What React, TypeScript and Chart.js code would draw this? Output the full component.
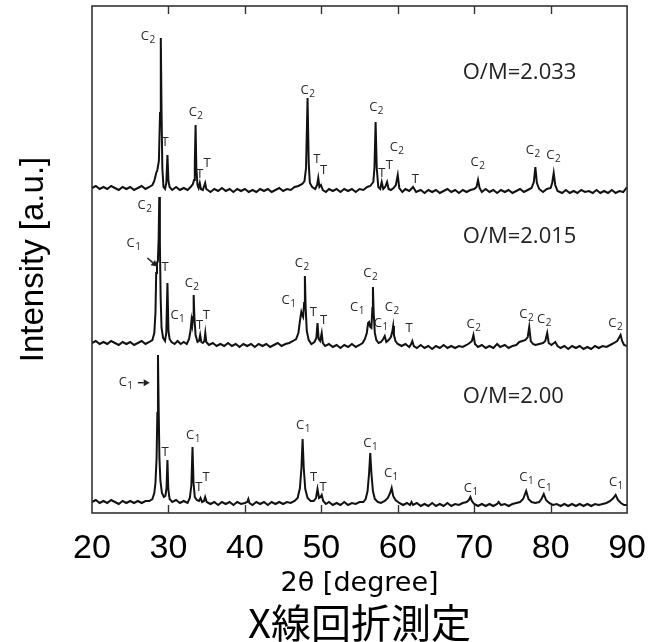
import React, { useEffect, useRef } from 'react';
import { Chart, registerables } from 'chart.js';

Chart.register(...registerables);

// ---------- data (2θ in degree, stacked intensity in a.u.) ----------
const X_TICKS = [20, 30, 40, 50, 60, 70, 80, 90];
const SAMPLE_NAMES = ['O/M=2.033', 'O/M=2.015', 'O/M=2.00'];
const NAME_POS: [number, number][] = [[68.5, 440.5], [68.5, 276], [68.5, 116]];

const TRACE_2033: [number, number][] = [
  [20.0, 325], [20.5, 327], [21.0, 324], [21.5, 326], [22.0, 324], [22.5, 327], [23.0, 325], [23.5, 323],
  [24.0, 326], [24.5, 324], [25.0, 326], [25.5, 323], [26.0, 325], [26.5, 327], [27.0, 324], [27.5, 326],
  [27.9, 328], [28.15, 332], [28.4, 340], [28.55, 343], [28.75, 352], [28.9, 400], [29.0, 475], [29.1, 400],
  [29.2, 345], [29.35, 326], [29.55, 324], [29.72, 330], [29.87, 358], [30.0, 332], [30.15, 326], [30.5, 323],
  [31.0, 326], [31.5, 323], [32.0, 325], [32.5, 323], [32.9, 326], [33.2, 329], [33.35, 333], [33.45, 350],
  [33.55, 388], [33.65, 345], [33.8, 328], [33.95, 325], [34.1, 330], [34.25, 324], [34.5, 323], [34.8, 330],
  [34.95, 324], [35.5, 321], [36.0, 324], [36.5, 322], [37.0, 325], [37.5, 322], [38.0, 324], [38.5, 321],
  [39.0, 324], [39.5, 322], [40.0, 324], [40.5, 321], [41.0, 323], [41.5, 321], [42.0, 324], [42.5, 322],
  [43.0, 324], [43.5, 321], [44.0, 323], [44.5, 325], [45.0, 322], [45.5, 324], [46.0, 323], [46.5, 326],
  [47.0, 327], [47.5, 329], [47.8, 332], [48.0, 345], [48.2, 415], [48.35, 350], [48.5, 330], [48.8, 326],
  [49.2, 324], [49.45, 328], [49.6, 335], [49.75, 326], [49.95, 328], [50.2, 323], [50.6, 321], [51.0, 324],
  [51.5, 322], [52.0, 324], [52.5, 321], [53.0, 324], [53.5, 322], [54.0, 324], [54.5, 321], [55.0, 324],
  [55.5, 323], [56.0, 326], [56.4, 327], [56.8, 331], [56.95, 345], [57.1, 391], [57.25, 345], [57.45, 326],
  [57.7, 324], [57.9, 331], [58.1, 324], [58.35, 326], [58.6, 331], [58.8, 324], [59.1, 323], [59.45, 325],
  [59.75, 328], [60.0, 338], [60.2, 325], [60.6, 321], [61.0, 324], [61.5, 322], [62.0, 326], [62.4, 321],
  [63.0, 323], [63.5, 320], [64.0, 323], [64.5, 321], [65.0, 323], [65.5, 320], [66.0, 322], [66.5, 324],
  [67.0, 321], [67.5, 323], [68.0, 320], [68.5, 323], [69.0, 321], [69.5, 323], [70.0, 324], [70.3, 326],
  [70.5, 333], [70.7, 325], [71.0, 321], [71.5, 324], [72.0, 321], [72.5, 323], [73.0, 320], [73.5, 323],
  [74.0, 321], [74.5, 323], [75.0, 320], [75.5, 322], [76.0, 324], [76.5, 321], [77.0, 323], [77.5, 325],
  [77.8, 331], [78.0, 346], [78.2, 330], [78.5, 324], [79.0, 321], [79.5, 324], [80.0, 325], [80.2, 330],
  [80.4, 340], [80.6, 328], [80.9, 322], [81.5, 320], [82.0, 323], [82.5, 320], [83.0, 322], [83.5, 320],
  [84.0, 323], [84.5, 321], [85.0, 322], [85.5, 320], [86.0, 323], [86.5, 320], [87.0, 322], [87.5, 320],
  [88.0, 323], [88.5, 320], [89.0, 322], [89.5, 321], [90.0, 326],
];

const TRACE_2015: [number, number][] = [
  [20.0, 170], [20.5, 172], [21.0, 169], [21.5, 171], [22.0, 169], [22.5, 172], [23.0, 170], [23.5, 168],
  [24.0, 171], [24.5, 169], [25.0, 171], [25.5, 168], [26.0, 170], [26.5, 172], [27.0, 169], [27.5, 171],
  [27.9, 173], [28.15, 180], [28.3, 200], [28.4, 240], [28.5, 250], [28.62, 252], [28.72, 275], [28.8, 316],
  [28.88, 270], [28.98, 215], [29.1, 185], [29.3, 175], [29.55, 172], [29.72, 180], [29.87, 230], [30.0, 182],
  [30.15, 174], [30.4, 171], [30.8, 169], [31.2, 172], [31.6, 169], [32.0, 171], [32.4, 169], [32.7, 174],
  [32.9, 183], [33.02, 193], [33.12, 188], [33.22, 196], [33.3, 218], [33.4, 195], [33.55, 178], [33.8, 171],
  [34.0, 172], [34.15, 178], [34.3, 171], [34.5, 170], [34.7, 172], [34.82, 180], [34.95, 171], [35.3, 168],
  [35.8, 170], [36.3, 167], [36.8, 169], [37.3, 167], [37.8, 170], [38.3, 167], [38.8, 169], [39.3, 166],
  [39.8, 169], [40.3, 167], [40.8, 169], [41.3, 166], [41.8, 169], [42.3, 167], [42.8, 169], [43.3, 166],
  [43.8, 168], [44.3, 170], [44.8, 167], [45.3, 169], [45.8, 170], [46.3, 172], [46.7, 174], [47.0, 180],
  [47.2, 192], [47.38, 201], [47.5, 198], [47.62, 196], [47.75, 210], [47.85, 237], [47.95, 205], [48.1, 182],
  [48.35, 173], [48.7, 169], [49.1, 171], [49.35, 175], [49.5, 190], [49.65, 174], [49.85, 172], [50.05, 180],
  [50.2, 170], [50.5, 167], [51.0, 169], [51.5, 166], [52.0, 168], [52.5, 165], [53.0, 168], [53.5, 166],
  [54.0, 169], [54.5, 166], [55.0, 168], [55.4, 170], [55.7, 174], [55.95, 180], [56.12, 190], [56.25, 191],
  [56.4, 186], [56.55, 185], [56.68, 205], [56.75, 226], [56.85, 200], [57.0, 180], [57.2, 173], [57.5, 170],
  [57.8, 171], [58.1, 174], [58.3, 177], [58.5, 171], [58.8, 173], [59.1, 176], [59.3, 182], [59.4, 187],
  [59.5, 178], [59.7, 172], [60.0, 169], [60.5, 167], [61.0, 169], [61.5, 166], [61.75, 169], [61.9, 172],
  [62.1, 167], [62.5, 165], [63.0, 168], [63.5, 165], [64.0, 167], [64.5, 164], [65.0, 167], [65.5, 165],
  [66.0, 168], [66.5, 165], [67.0, 167], [67.5, 165], [68.0, 167], [68.5, 166], [69.0, 168], [69.4, 170],
  [69.7, 172], [69.9, 178], [70.1, 169], [70.5, 166], [71.0, 168], [71.5, 165], [72.0, 167], [72.5, 165],
  [73.0, 169], [73.4, 166], [74.0, 168], [74.5, 165], [75.0, 167], [75.5, 168], [75.9, 171], [76.3, 172],
  [76.7, 173], [77.0, 176], [77.2, 186], [77.4, 172], [77.7, 169], [78.0, 168], [78.5, 169], [79.0, 170],
  [79.3, 172], [79.55, 180], [79.75, 170], [80.1, 168], [80.6, 171], [80.9, 167], [81.3, 165], [81.8, 167],
  [82.3, 164], [82.8, 167], [83.3, 165], [83.8, 167], [84.3, 164], [84.8, 166], [85.3, 164], [85.8, 167],
  [86.3, 165], [86.8, 167], [87.3, 166], [87.8, 168], [88.3, 170], [88.7, 172], [89.0, 176], [89.15, 178],
  [89.35, 172], [89.6, 168], [90.0, 167],
];

const TRACE_200: [number, number][] = [
  [20.0, 11], [20.5, 13], [21.0, 10], [21.5, 12], [22.0, 10], [22.5, 13], [23.0, 11], [23.5, 9],
  [24.0, 12], [24.5, 10], [25.0, 12], [25.5, 10], [26.0, 12], [26.5, 10], [27.0, 12], [27.5, 12],
  [27.9, 14], [28.15, 20], [28.3, 30], [28.45, 55], [28.55, 100], [28.63, 158], [28.72, 105], [28.82, 55],
  [28.95, 32], [29.15, 20], [29.4, 16], [29.6, 17], [29.75, 25], [29.87, 53], [29.98, 24], [30.15, 14],
  [30.5, 11], [31.0, 13], [31.5, 10], [32.0, 12], [32.5, 10], [32.8, 15], [33.0, 28], [33.15, 66],
  [33.28, 30], [33.45, 16], [33.7, 13], [34.0, 12], [34.2, 15], [34.4, 11], [34.65, 12], [34.8, 16],
  [35.0, 11], [35.5, 9], [36.0, 11], [36.5, 8], [37.0, 11], [37.5, 9], [38.0, 11], [38.5, 8],
  [39.0, 11], [39.5, 9], [40.0, 10], [40.3, 11], [40.45, 14], [40.6, 10], [41.0, 8], [41.5, 11],
  [42.0, 9], [42.5, 11], [43.0, 8], [43.5, 11], [44.0, 9], [44.5, 11], [45.0, 9], [45.5, 11],
  [46.0, 10], [46.5, 12], [46.9, 15], [47.2, 25], [47.4, 45], [47.55, 74], [47.7, 45], [47.9, 24],
  [48.2, 15], [48.6, 12], [49.0, 12], [49.3, 15], [49.5, 24], [49.7, 15], [49.9, 16], [50.05, 18],
  [50.25, 12], [50.6, 9], [51.0, 11], [51.5, 8], [52.0, 10], [52.5, 8], [53.0, 11], [53.5, 8],
  [54.0, 10], [54.5, 9], [55.0, 11], [55.5, 11], [55.8, 14], [56.05, 22], [56.25, 40], [56.4, 60],
  [56.55, 40], [56.75, 22], [57.0, 14], [57.4, 11], [57.8, 10], [58.3, 12], [58.7, 15], [59.0, 20],
  [59.2, 25], [59.4, 17], [59.7, 13], [60.2, 10], [60.7, 8], [61.2, 10], [61.6, 8], [61.8, 11],
  [62.0, 8], [62.5, 10], [63.0, 7], [63.5, 9], [64.0, 7], [64.5, 10], [65.0, 7], [65.5, 9],
  [66.0, 7], [66.5, 10], [67.0, 7], [67.5, 9], [68.0, 8], [68.5, 10], [69.0, 11], [69.3, 13],
  [69.5, 16], [69.7, 12], [70.0, 9], [70.5, 7], [71.0, 9], [71.5, 7], [72.0, 9], [72.5, 7],
  [73.0, 9], [73.2, 11], [73.5, 8], [74.0, 9], [74.5, 7], [75.0, 9], [75.5, 10], [76.0, 11],
  [76.4, 14], [76.8, 22], [77.1, 14], [77.5, 11], [78.0, 10], [78.5, 11], [78.8, 14], [79.1, 19],
  [79.4, 13], [79.8, 10], [80.3, 8], [80.8, 9], [81.3, 7], [81.8, 9], [82.3, 7], [82.8, 9],
  [83.3, 7], [83.8, 9], [84.3, 7], [84.8, 9], [85.3, 7], [85.8, 9], [86.3, 8], [86.8, 9],
  [87.3, 10], [87.8, 12], [88.2, 15], [88.5, 18], [88.8, 13], [89.2, 10], [89.6, 8], [90.0, 8],
];

// peak labels: [2θ, intensity, phase]
const PEAKS_2033: [number, number, string][] = [
  [27.28, 477, 'C2'], [29.57, 371, 'T'], [33.55, 401, 'C2'], [34.1, 339, 'T'], [35.05, 350, 'T'],
  [48.2, 423, 'C2'], [49.41, 354, 'T'], [50.28, 343, 'T'], [57.17, 406, 'C2'], [57.9, 340, 'T'],
  [58.9, 348, 'T'], [59.85, 366, 'C2'], [62.3, 334, 'T'], [70.42, 351, 'C2'], [77.66, 363, 'C2'],
  [80.33, 358, 'C2'],
];
const PEAKS_2015: [number, number, string][] = [
  [26.86, 308, 'C2'], [25.43, 270, 'C1'], [29.57, 246, 'T'], [33.03, 230, 'C2'], [31.17, 198, 'C1'],
  [34.06, 188, 'T'], [34.96, 198, 'T'], [45.7, 213, 'C1'], [47.43, 250, 'C2'], [48.94, 201, 'T'],
  [50.28, 193, 'T'], [54.67, 206, 'C1'], [56.4, 240, 'C2'], [57.78, 190, 'C1'], [59.2, 206, 'C2'],
  [61.48, 185, 'T'], [69.9, 189, 'C2'], [76.8, 199, 'C2'], [79.13, 194, 'C2'], [88.44, 190, 'C2'],
];
const PEAKS_200: [number, number, string][] = [
  [24.4, 131, 'C1'], [29.57, 61, 'T'], [33.2, 78, 'C1'], [33.97, 26, 'T'], [34.92, 36, 'T'],
  [47.6, 88, 'C1'], [48.98, 36, 'T'], [50.23, 26, 'T'], [56.4, 70, 'C1'], [59.1, 40, 'C1'],
  [69.55, 25, 'C1'], [76.8, 36, 'C1'], [79.17, 29, 'C1'], [88.53, 31, 'C1'],
];
// arrows: [from 2θ, from I, to 2θ, to I]
const ARROWS: [number, number, number, number][] = [
  [27.24, 255, 28.55, 246.5],
  [26.0, 130.3, 27.55, 130.3],
];

const TRACES = [TRACE_2033, TRACE_2015, TRACE_200];
const PEAK_LABELS = [PEAKS_2033, PEAKS_2015, PEAKS_200];

const LABEL_FONT = '"Open Sans", "Noto Sans", sans-serif';

const overlayPlugin = {
  id: 'xrdOverlay',
  afterDatasetsDraw(chart: any) {
    const { ctx, chartArea: a, scales } = chart;
    const xs = scales.x;
    const ys = scales.y;
    ctx.save();
    // frame
    ctx.strokeStyle = '#333';
    ctx.lineWidth = 1.6;
    ctx.strokeRect(a.left, a.top, a.right - a.left, a.bottom - a.top);
    // inward ticks top & bottom
    ctx.lineWidth = 1.4;
    X_TICKS.forEach((t) => {
      if (t === X_TICKS[0] || t === X_TICKS[X_TICKS.length - 1]) return;
      const px = Math.round(xs.getPixelForValue(t)) + 0.5;
      ctx.beginPath();
      ctx.moveTo(px, a.top);
      ctx.lineTo(px, a.top + 8);
      ctx.moveTo(px, a.bottom);
      ctx.lineTo(px, a.bottom - 8);
      ctx.stroke();
    });
    // peak labels
    ctx.fillStyle = '#2a2a2a';
    ctx.textBaseline = 'middle';
    ctx.textAlign = 'left';
    PEAK_LABELS.forEach((list) => {
      list.forEach(([tx, ty, txt]) => {
        const px = xs.getPixelForValue(tx);
        const py = ys.getPixelForValue(ty);
        const main = txt[0];
        const sub = txt.slice(1);
        ctx.font = `13px ${LABEL_FONT}`;
        const w1 = ctx.measureText(main).width;
        ctx.font = `10px ${LABEL_FONT}`;
        const w2 = sub ? ctx.measureText(sub).width : 0;
        const start = px - (w1 + w2) / 2;
        ctx.font = `13px ${LABEL_FONT}`;
        ctx.fillText(main, start, py);
        if (sub) {
          ctx.font = `10px ${LABEL_FONT}`;
          ctx.fillText(sub, start + w1 + 0.5, py + 4);
        }
      });
    });
    // arrows
    ctx.strokeStyle = '#222';
    ctx.fillStyle = '#222';
    ctx.lineWidth = 1.5;
    ARROWS.forEach(([x0, y0, x1, y1]) => {
      const p0x = xs.getPixelForValue(x0), p0y = ys.getPixelForValue(y0);
      const p1x = xs.getPixelForValue(x1), p1y = ys.getPixelForValue(y1);
      const ang = Math.atan2(p1y - p0y, p1x - p0x);
      const hl = 6, hw = 3.5;
      const bx = p1x - hl * Math.cos(ang), by = p1y - hl * Math.sin(ang);
      ctx.beginPath();
      ctx.moveTo(p0x, p0y);
      ctx.lineTo(bx, by);
      ctx.stroke();
      ctx.beginPath();
      ctx.moveTo(p1x, p1y);
      ctx.lineTo(bx + hw * Math.sin(ang), by - hw * Math.cos(ang));
      ctx.lineTo(bx - hw * Math.sin(ang), by + hw * Math.cos(ang));
      ctx.closePath();
      ctx.fill();
    });
    // sample names
    ctx.fillStyle = '#222';
    ctx.font = `22px ${LABEL_FONT}`;
    SAMPLE_NAMES.forEach((name, i) => {
      const [tx, ty] = NAME_POS[i];
      ctx.fillText(name, xs.getPixelForValue(tx), ys.getPixelForValue(ty));
    });
    ctx.restore();
  },
};

export default function App() {
  const ref = useRef<HTMLCanvasElement>(null);
  useEffect(() => {
    const canvas = ref.current;
    if (!canvas) return;
    const chart = new Chart(canvas, {
      type: 'scatter',
      data: {
        datasets: TRACES.map((tr, i) => ({
          label: SAMPLE_NAMES[i],
          data: tr.map(([x, y]) => ({ x, y })),
          showLine: true,
          borderColor: '#111',
          borderWidth: 2,
          pointRadius: 0,
          tension: 0,
        })),
      },
      options: {
        animation: false,
        responsive: false,
        devicePixelRatio: 1,
        events: [],
        layout: { padding: { top: 6, right: 28, bottom: 0, left: 0 } },
        plugins: {
          legend: { display: false },
          tooltip: { enabled: false },
          title: {
            display: true,
            position: 'bottom',
            fullSize: false,
            text: 'X線回折測定',
            color: '#000',
            font: { family: '"Noto Sans CJK JP"', size: 40, weight: 'normal', lineHeight: 0.95 },
            padding: { top: 0, bottom: 0 },
          },
        },
        scales: {
          x: {
            type: 'linear',
            min: 20,
            max: 90,
            afterBuildTicks: (s: any) => {
              s.ticks = X_TICKS.map((v) => ({ value: v }));
            },
            afterFit: (s: any) => {
              s.height = 91;
            },
            grid: { display: false, drawTicks: false },
            border: { display: false },
            ticks: {
              autoSkip: false,
              maxRotation: 0,
              padding: 15,
              color: '#000',
              font: { family: '"Liberation Sans", Arial, sans-serif', size: 34 },
            },
            title: {
              display: true,
              text: '2θ [degree]',
              color: '#000',
              font: { family: '"DejaVu Sans", sans-serif', size: 27 },
              padding: { top: 0, bottom: 4 },
            },
          },
          y: {
            min: 0,
            max: 507,
            afterFit: (s: any) => {
              s.width = 92;
            },
            grid: { display: false, drawTicks: false },
            border: { display: false },
            ticks: { display: false },
            title: {
              display: true,
              text: 'Intensity [a.u.]',
              color: '#000',
              font: { family: '"Liberation Sans", Arial, sans-serif', size: 33 },
              padding: { top: 14, bottom: 0 },
            },
          },
        },
      },
      plugins: [overlayPlugin],
    } as any);
    return () => chart.destroy();
  }, []);
  return (
    <div style={{ position: 'absolute', left: 0, top: 0, width: 661, height: 642, background: '#fff' }}>
      <canvas ref={ref} width={661} height={642} style={{ width: 661, height: 642, display: 'block' }} />
    </div>
  );
}
